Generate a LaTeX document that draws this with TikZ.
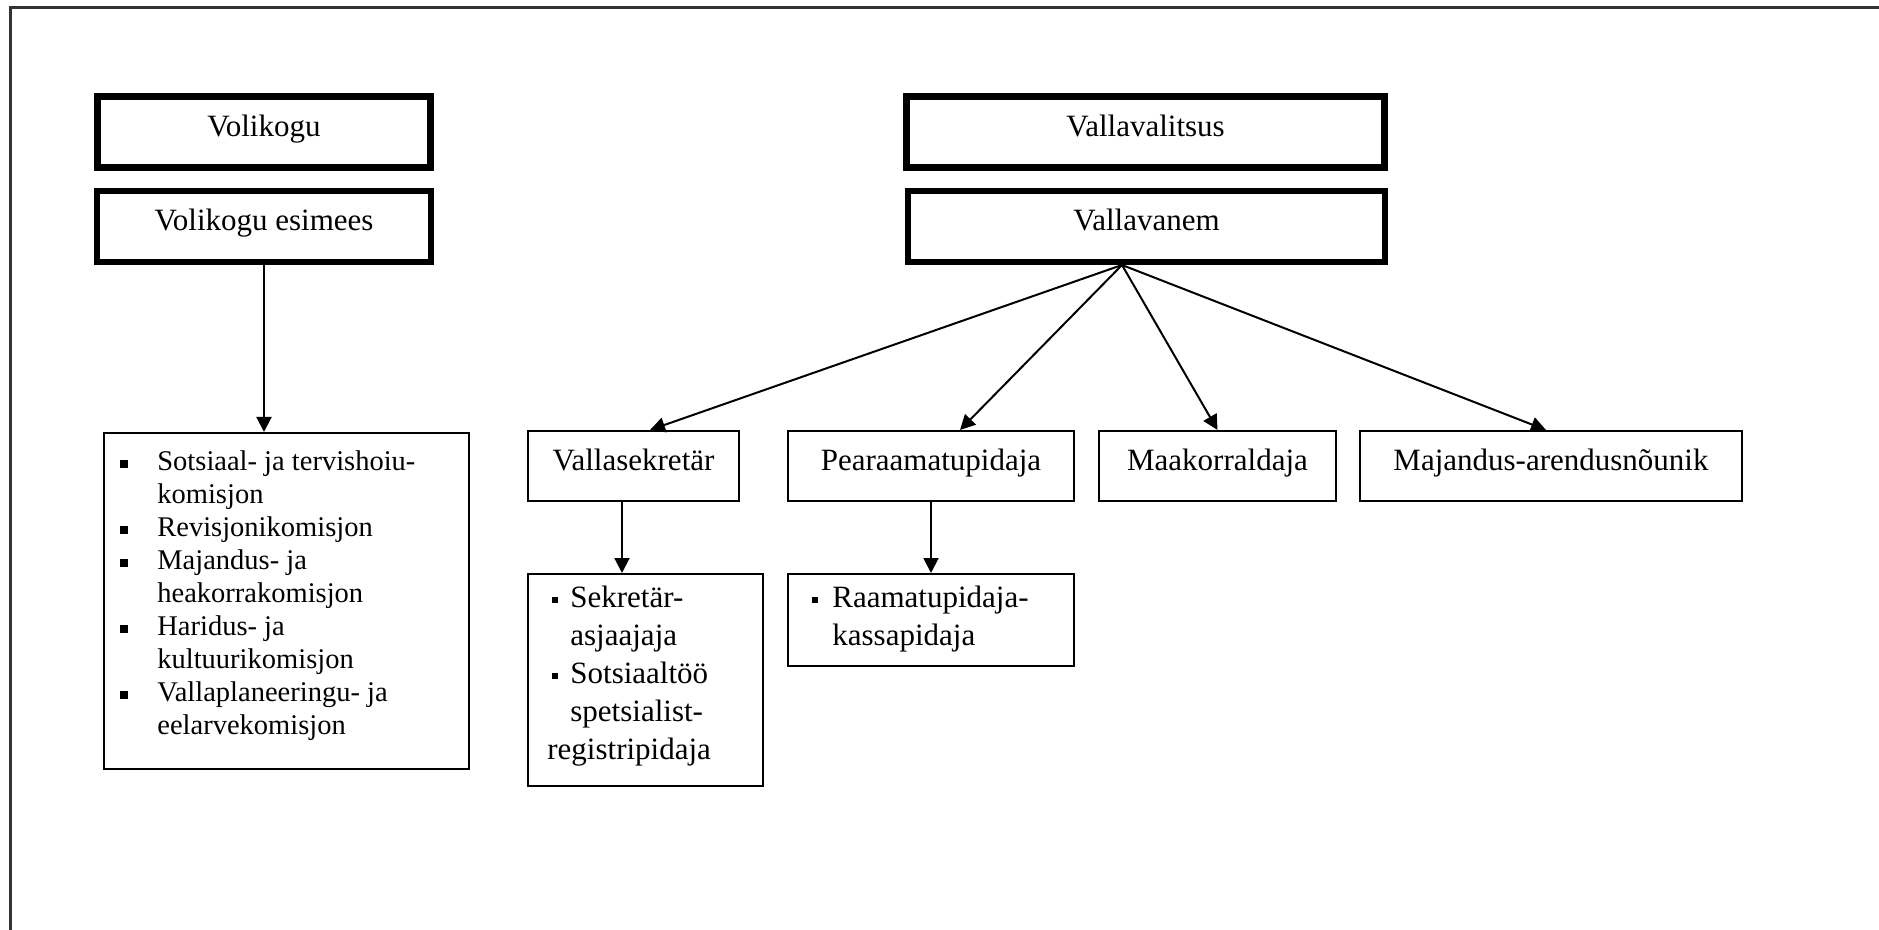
\documentclass[tikz,border=0pt]{standalone}
\usepackage{fontspec}
\setmainfont{Liberation Serif}
\usetikzlibrary{arrows.meta}

\newcommand{\bigbul}{\makebox[18.5pt][l]{\rule[1.2pt]{4pt}{4pt}}}
\newcommand{\smallbul}[1]{\makebox[#1][l]{\rule[2.5pt]{3pt}{3pt}}}

\begin{document}
\begin{tikzpicture}[x=0.5pt,y=-0.5pt,
    every node/.style={font=\fontsize{15.5}{19}\selectfont},
    heavy/.style={draw,line width=3.5pt,inner sep=0pt,minimum height=35.5pt,
        text height=0.7em,text depth=0.25em},
    light/.style={draw,line width=1pt,inner sep=0pt,minimum height=35pt,
        text height=0.7em,text depth=0.25em},
    listbox/.style={draw,line width=1pt,inner sep=0pt},
    listtext/.style={anchor=north west,inner sep=0pt,align=left},
    arr/.style={line width=1pt,-{Triangle[length=7.5pt,width=7.5pt]}}]
    \useasboundingbox (0,0) rectangle (1879,930);
    \draw[line width=1.5pt,black!80] (10,930) -- (10,8) -- (1879,8);

    % volikogu side
    \node[heavy,minimum width=166.5pt] (volikogu) at (264,132) {Volikogu};
    \node[heavy,line width=3pt,minimum width=167pt] (esimees) at (264,226.5)
        {Volikogu esimees};
    \node[listbox,minimum width=182.5pt,minimum height=168pt] (komisjon)
        at (286.5,601) {};
    \node[listtext,font=\fontsize{14.25}{16.5}\selectfont] (komisjonid)
        at ([xshift=8.5pt,yshift=-9pt]komisjon.north west)
        {\bigbul Sotsiaal- ja tervishoiu-\\\hspace*{18.5pt}komisjon\\
        \bigbul Revisjonikomisjon\\
        \bigbul Majandus- ja\\\hspace*{18.5pt}heakorrakomisjon\\
        \bigbul Haridus- ja\\\hspace*{18.5pt}kultuurikomisjon\\
        \bigbul Vallaplaneeringu- ja\\\hspace*{18.5pt}eelarvekomisjon};
    \draw[arr] (esimees.south) -- (esimees.south |- komisjon.north);

    % vallavalitsus side
    \node[heavy,minimum width=239pt] (valitsus) at (1145.5,132) {Vallavalitsus};
    \node[heavy,line width=3pt,minimum width=238.5pt] (vanem) at (1146.5,226.5)
        {Vallavanem};

    \node[light,minimum width=105.5pt] (sekretar) at (633.5,466) {Vallasekretär};
    \node[light,minimum width=143pt] (pearaamat) at (931,466) {Pearaamatupidaja};
    \node[light,minimum width=118.5pt] (maakorr) at (1217.5,466) {Maakorraldaja};
    \node[light,minimum width=191pt] (majandus) at (1551,466)
        {Majandus-arendusnõunik};

    \coordinate (hub) at ([xshift=-12.25pt]vanem.south);
    \draw[arr] (hub) -- ([xshift=8.25pt]sekretar.north);
    \draw[arr] (hub) -- ([xshift=14.5pt]pearaamat.north);
    \draw[arr] (hub) -- (maakorr.north);
    \draw[arr] (hub) -- ([xshift=-2.5pt]majandus.north);

    \node[listbox,minimum width=117.5pt,minimum height=106pt] (sekrlist)
        at (645.5,680) {};
    \node[listtext] (sekrtext) at ([xshift=10pt,yshift=-6.5pt]sekrlist.north west)
        {\hspace*{2.5pt}\smallbul{9pt}Sekretär-\\\hspace*{11.5pt}asjaajaja\\
        \hspace*{2.5pt}\smallbul{9pt}Sotsiaaltöö\\\hspace*{11.5pt}spetsialist-\\
        registripidaja};
    \node[listbox,minimum width=143pt,minimum height=46pt] (raamlist)
        at (931,620) {};
    \node[listtext] (raamtext) at ([xshift=12.5pt,yshift=-6.5pt]raamlist.north west)
        {\smallbul{10pt}Raamatupidaja-\\\hspace*{10pt}kassapidaja};

    \coordinate (s1) at ([xshift=-5.75pt]sekretar.south);
    \draw[arr] (s1) -- (s1 |- sekrlist.north);
    \draw[arr] (pearaamat.south) -- (raamlist.north);
\end{tikzpicture}
\end{document}
